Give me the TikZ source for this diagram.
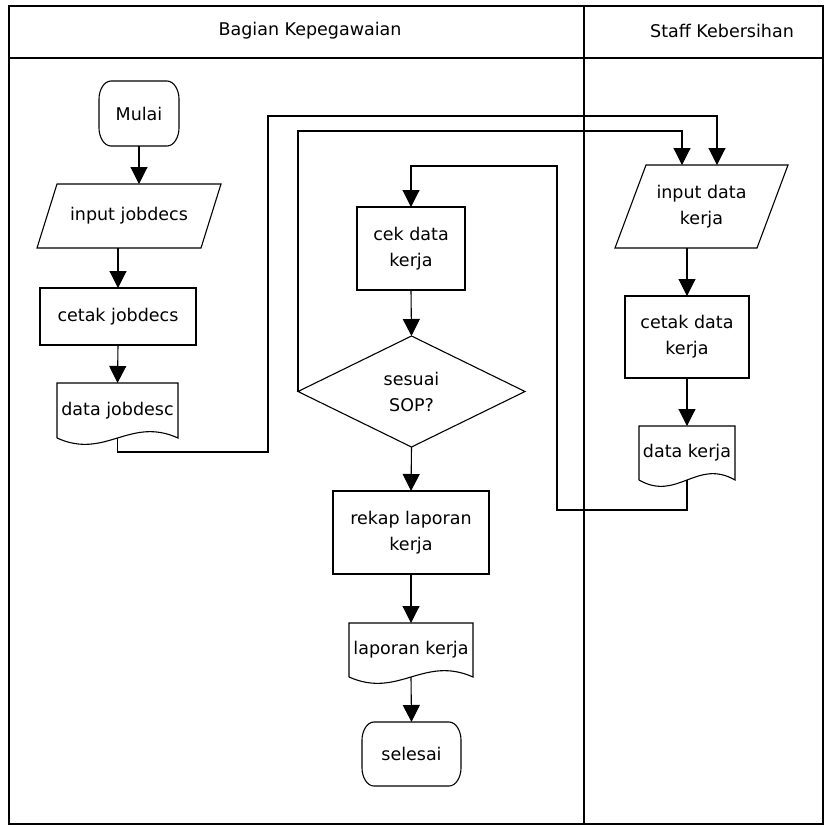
\documentclass[tikz,border=0pt]{standalone}
\usepackage{fontspec}
\setmainfont{DejaVu Sans}
\usetikzlibrary{shapes.geometric,arrows.meta,calc}

\begin{document}
\begin{tikzpicture}
[x=1pt, y=-1pt,
 lineDecorate/.style={-{Triangle[width=17pt,length=17pt]},line width=1.1pt},
 wireDecorate/.style={line width=1.1pt},
 laneDecorate/.style={line width=2.2pt},
 textDecorate/.style={inner sep=0pt,outer sep=0pt,align=center,font=\fontsize{17.5}{26}\selectfont},
 boxDecorate/.style={textDecorate,shape=rectangle,draw,line width=1.1pt},
 decDecorate/.style={textDecorate,shape=diamond,draw,line width=1.1pt},
 openDecorate/.style={textDecorate,shape=rectangle}]

 \useasboundingbox (0,0) rectangle (827,828);

 % lanes
 \draw[laneDecorate] (9,6) rectangle (823,824);
 \draw[laneDecorate] (9,58) -- (823,58);
 \draw[laneDecorate] (584,6) -- (584,824);
 \node (LaneA) at (310,31) [textDecorate] {Bagian Kepegawaian};
 \node (LaneB) at (722,31) [textDecorate] {Staff Kebersihan};

 % Bagian Kepegawaian
 \node (Mulai) at (139,113.5) [openDecorate, minimum width=80, minimum height=65] {Mulai};
 \node (InJob) at (129,216) [openDecorate, minimum width=184, minimum height=64] {input jobdecs};
 \node (CetakJob) at (118,316.5) [boxDecorate, minimum width=156, minimum height=57] {cetak jobdecs};
 \node (DataJob) at (117.5,410.5) [openDecorate, minimum width=121, minimum height=55] {data jobdesc};

 \node (CekData) at (411,248.5) [boxDecorate, minimum width=108, minimum height=83] {cek data\\kerja};
 \node (Sop) at (411.5,391.5) [decDecorate, minimum width=227, minimum height=111] {sesuai\\SOP?};
 \node (Rekap) at (411,532.5) [boxDecorate, minimum width=156, minimum height=83] {rekap laporan\\kerja};
 \node (LapKerja) at (411,650) [openDecorate, minimum width=124, minimum height=54] {laporan kerja};
 \node (Selesai) at (411.5,754) [openDecorate, minimum width=99, minimum height=64] {selesai};

 % Staff Kebersihan
 \node (InKerja) at (701.5,206.5) [openDecorate, minimum width=173, minimum height=83] {input data\\kerja};
 \node (CetakKerja) at (687,337) [boxDecorate, minimum width=124, minimum height=82] {cetak data\\kerja};
 \node (DataKerja) at (687,453) [openDecorate, minimum width=96, minimum height=54] {data kerja};

 % outlines
 \foreach \n in {Mulai,Selesai}
 {
  \draw[wireDecorate] ($(\n.north west)+(12,0)$) -- ($(\n.north east)+(-12,0)$)
   .. controls ($(\n.north east)+(-5,0)$) and ($(\n.north east)+(0,9)$) .. ($(\n.north east)+(0,18)$)
   -- ($(\n.south east)+(0,-18)$)
   .. controls ($(\n.south east)+(0,-9)$) and ($(\n.south east)+(-5,0)$) .. ($(\n.south east)+(-12,0)$)
   -- ($(\n.south west)+(12,0)$)
   .. controls ($(\n.south west)+(5,0)$) and ($(\n.south west)+(0,-9)$) .. ($(\n.south west)+(0,-18)$)
   -- ($(\n.north west)+(0,18)$)
   .. controls ($(\n.north west)+(0,9)$) and ($(\n.north west)+(5,0)$) .. cycle;
 }
 \foreach \n/\s in {InJob/20,InKerja/31}
 {
  \draw[wireDecorate] (\n.south west) -- ($(\n.north west)+(\s,0)$) -- (\n.north east) -- ($(\n.south east)+(-\s,0)$) -- cycle;
 }
 \foreach \n in {DataJob,LapKerja,DataKerja}
 {
  \draw[wireDecorate] (\n.south west) -- (\n.north west) -- (\n.north east) -- (\n.south east)
   .. controls ($(\n.south east)!0.4!(\n.south west)+(0,-22)$) and ($(\n.south west)!0.4!(\n.south east)+(0,22)$) .. (\n.south west);
 }

 \coordinate (K1) at (717,116);
 \coordinate (K2) at (682,131);
 \coordinate (K3) at (557,166);

 \draw[lineDecorate] (Mulai.south) -- (Mulai.south |- InJob.north);
 \draw[lineDecorate] (InJob.south -| CetakJob.north) -- (CetakJob.north);
 \draw[lineDecorate] (CetakJob.south) -- (DataJob.north);
 \draw[lineDecorate] (DataJob.south) |- (268,452) |- (K1) -- (K1 |- InKerja.north);
 \draw[lineDecorate] (Sop.west) |- (K2) -- (K2 |- InKerja.north);
 \draw[lineDecorate] (CekData.south) -- (Sop.north);
 \draw[lineDecorate] (Sop.south) -- (Rekap.north);
 \draw[lineDecorate] (Rekap.south) -- (LapKerja.north);
 \draw[lineDecorate] (LapKerja.south) -- (Selesai.north);
 \draw[lineDecorate] (InKerja.south -| CetakKerja.north) -- (CetakKerja.north);
 \draw[lineDecorate] (CetakKerja.south) -- (DataKerja.north);
 \draw[lineDecorate] (DataKerja.south) |- (557,510) -- (K3) -| (CekData.north);
\end{tikzpicture}
\end{document}
